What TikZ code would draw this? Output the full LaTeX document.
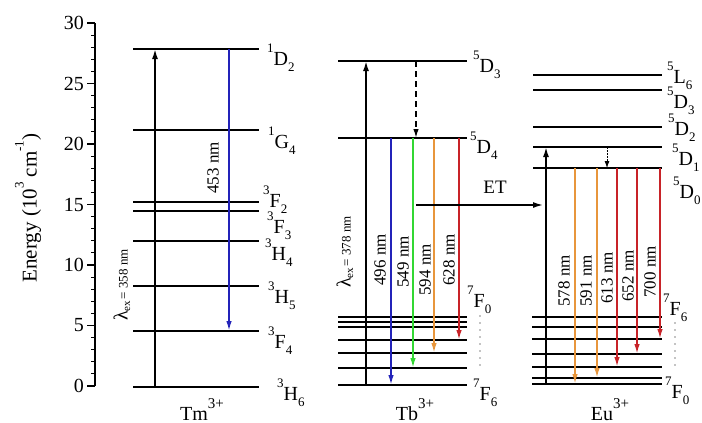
\documentclass[tikz,border=0pt]{standalone}
\usepackage{fontspec}
\setmainfont{Liberation Serif}
\usetikzlibrary{arrows.meta}
\definecolor{cblue}{RGB}{35,35,185}
\definecolor{cgreen}{RGB}{50,215,50}
\definecolor{corange}{RGB}{232,150,60}
\definecolor{cred}{RGB}{200,35,40}
\newcommand\lev[3]{\raisebox{0.62em}{\fontsize{13}{13}\selectfont #1}#2\raisebox{-0.3em}{\fontsize{13}{13}\selectfont #3}}
\newcommand\supx[1]{\raisebox{0.62em}{\fontsize{13}{13}\selectfont #1}}
\newcommand\supion[1]{\raisebox{0.6em}{\fontsize{15}{15}\selectfont #1}}
\tikzset{
  lvthick/.style={line width=2pt},
  lvthin/.style={line width=1.3pt},
  lvmid/.style={line width=1.7pt},
  emit/.style={line width=1.7pt,-{Latex[length=10pt,width=5.5pt]}},
  lab/.style={font=\rmfamily\fontsize{20}{20}\selectfont,inner sep=0pt,anchor=base west},
  nm/.style={font=\rmfamily\fontsize{17}{17}\selectfont,inner sep=0pt,rotate=90},
  tick/.style={font=\rmfamily\fontsize{20}{20}\selectfont,inner sep=0pt,anchor=east},
  ion/.style={font=\rmfamily\fontsize{20}{20}\selectfont,inner sep=0pt,anchor=base},
  dotcol/.style={line width=1.4pt,line cap=round,dash pattern=on 0pt off 7pt}
}
\begin{document}
\begin{tikzpicture}[x=1pt,y=-1pt]
\useasboundingbox (0,0) rectangle (702,423);
% axis
\draw[line width=1.3pt] (95,23) -- (95,386);
\foreach \v in {0,...,30}{
  \pgfmathsetmacro\yy{386-12.1*\v}
  \draw[line width=1.1pt] (91,\yy) -- (95,\yy);
}
\foreach \v in {0,5,...,30}{
  \pgfmathsetmacro\yy{386-12.1*\v}
  \draw[line width=1.1pt] (87,\yy) -- (95,\yy);
  \node[tick] (t\v) at (84,\yy) {\v};
}
\node[font=\rmfamily\fontsize{21}{21}\selectfont,rotate=90,inner sep=0pt] (elab) at (28,208)
  {Energy (10\supx{3} cm\supx{-1})};

% ---------- Tm ----------
\foreach \y/\s in {49/lvthick,130/lvthin,202/lvthick,211/lvthin,241/lvthick,286/lvthick,331/lvthick,387/lvthick}
  \draw[\s] (133,\y) -- (259,\y);
\coordinate (tmex0) at (155,387);
\coordinate (tmex1) at (155,49);
\draw[line width=1.7pt,-{Latex[length=10pt,width=6pt]}] (tmex0) -- (tmex1);
\coordinate (tmb0) at (229,49);
\coordinate (tmb1) at (229,331);
\draw[emit,cblue] (tmb0) -- (tmb1);
\node[nm] (l453) at (213,168) {453 nm};
\node[rotate=90,inner sep=0pt] (lamTm) at (122,285)
  {{\fontsize{20}{20}\selectfont λ}\raisebox{-0.25em}{\fontsize{11}{11}\selectfont ex}\,{\fontsize{13}{13}\selectfont = 358 nm}};
\node[lab] (tm1) at (267,65) {\lev{1}{D}{2}};
\node[lab] (tm2) at (268,148) {\lev{1}{G}{4}};
\node[lab] (tm3) at (263,207) {\lev{3}{F}{2}};
\node[lab] (tm4) at (267,233) {\lev{3}{F}{3}};
\node[lab] (tm5) at (265,260) {\lev{3}{H}{4}};
\node[lab] (tm6) at (268,303) {\lev{3}{H}{5}};
\node[lab] (tm7) at (268,348) {\lev{3}{F}{4}};
\node[lab] (tm8) at (277,400) {\lev{3}{H}{6}};
\node[ion] (tmion) at (202,420) {Tm\supion{3+}};

% ---------- Tb ----------
\foreach \y/\s in {61/lvthick,138/lvthick,317/lvthin,322/lvthin,327/lvthin,340/lvthick,353/lvthick,368/lvthick,385/lvthick}
  \draw[\s] (338,\y) -- (467,\y);
\coordinate (tbex0) at (366,385);
\coordinate (tbex1) at (366,61);
\draw[line width=1.7pt,-{Latex[length=10pt,width=6pt]}] (tbex0) -- (tbex1);
\coordinate (tbd0) at (416,61);
\coordinate (tbd1) at (416,138);
\draw[line width=1.5pt,dash pattern=on 6pt off 4pt,-{Latex[length=9pt,width=5.5pt]}] (tbd0) -- (tbd1);
\coordinate (tbb0) at (391,138); \coordinate (tbb1) at (391,385);
\coordinate (tbg0) at (413,138); \coordinate (tbg1) at (413,368);
\coordinate (tbo0) at (434,138); \coordinate (tbo1) at (434,353);
\coordinate (tbr0) at (459,138); \coordinate (tbr1) at (459,340);
\draw[emit,cblue] (tbb0) -- (tbb1);
\draw[emit,cgreen] (tbg0) -- (tbg1);
\draw[emit,corange] (tbo0) -- (tbo1);
\draw[emit,cred] (tbr0) -- (tbr1);
\node[nm] (l496) at (380,260) {496 nm};
\node[nm] (l549) at (403,262) {549 nm};
\node[nm] (l594) at (425,270) {594 nm};
\node[nm] (l628) at (449,260) {628 nm};
\node[rotate=90,inner sep=0pt] (lamTb) at (345,252)
  {{\fontsize{20}{20}\selectfont λ}\raisebox{-0.25em}{\fontsize{11}{11}\selectfont ex}\,{\fontsize{13}{13}\selectfont = 378 nm}};
\node[lab] (tb1) at (473,72) {\lev{5}{D}{3}};
\node[lab] (tb2) at (470,153) {\lev{5}{D}{4}};
\node[lab] (tb3) at (467,307) {\lev{7}{F}{0}};
\node[lab] (tb4) at (473,400) {\lev{7}{F}{6}};
\coordinate (tbdots0) at (480,316);
\coordinate (tbdots1) at (480,367);
\draw[dotcol] (tbdots0) -- (tbdots1);
\node[ion] (tbion) at (415,420) {Tb\supion{3+}};

% ET
\coordinate (et0) at (416,205);
\coordinate (et1) at (543,205);
\draw[line width=1.5pt,-{Latex[length=10pt,width=6pt]}] (et0) -- (et1);
\node[font=\rmfamily\fontsize{19}{19}\selectfont,inner sep=0pt] (etl) at (495,187) {ET};

% ---------- Eu ----------
\foreach \y in {75,90,127,147,168}
  \draw[lvmid] (533,\y) -- (662,\y);
\foreach \y/\s in {317/lvthick,327/lvthick,339/lvthick,354/lvthick,367/lvthick,378/lvthin,384/lvthick}
  \draw[\s] (532,\y) -- (662,\y);
\coordinate (euex0) at (546,384);
\coordinate (euex1) at (546,147);
\draw[line width=1.7pt,-{Latex[length=10pt,width=6pt]}] (euex0) -- (euex1);
\coordinate (eud0) at (607,147);
\coordinate (eud1) at (607,168);
\draw[line width=0.8pt,dash pattern=on 1.5pt off 1.5pt,-{Latex[length=7pt,width=5pt]}] (eud0) -- (eud1);
\coordinate (eua0) at (575,168); \coordinate (eua1) at (575,384);
\coordinate (eub0) at (597,168); \coordinate (eub1) at (597,378);
\coordinate (euc0) at (617,168); \coordinate (euc1) at (617,367);
\coordinate (eue0) at (637,168); \coordinate (eue1) at (637,354);
\coordinate (euf0) at (660,168); \coordinate (euf1) at (660,339);
\draw[emit,corange] (eua0) -- (eua1);
\draw[emit,corange] (eub0) -- (eub1);
\draw[emit,cred] (euc0) -- (euc1);
\draw[emit,cred] (eue0) -- (eue1);
\draw[emit,cred] (euf0) -- (euf1);
\node[nm] (l578) at (564,281) {578 nm};
\node[nm] (l591) at (586,281) {591 nm};
\node[nm] (l613) at (607,278) {613 nm};
\node[nm] (l652) at (628,276) {652 nm};
\node[nm] (l700) at (650,272) {700 nm};
\node[lab] (eu1) at (667,83) {\lev{5}{L}{6}};
\node[lab] (eu2) at (667,108) {\lev{5}{D}{3}};
\node[lab] (eu3) at (668,135) {\lev{5}{D}{2}};
\node[lab] (eu4) at (672,165) {\lev{5}{D}{1}};
\node[lab] (eu5) at (673,198) {\lev{5}{D}{0}};
\node[lab] (eu6) at (663,315) {\lev{7}{F}{6}};
\node[lab] (eu7) at (665,398) {\lev{7}{F}{0}};
\coordinate (eudots0) at (675,323);
\coordinate (eudots1) at (675,370);
\draw[dotcol] (eudots0) -- (eudots1);
\node[ion] (euion) at (610,420) {Eu\supion{3+}};
\end{tikzpicture}
\end{document}
